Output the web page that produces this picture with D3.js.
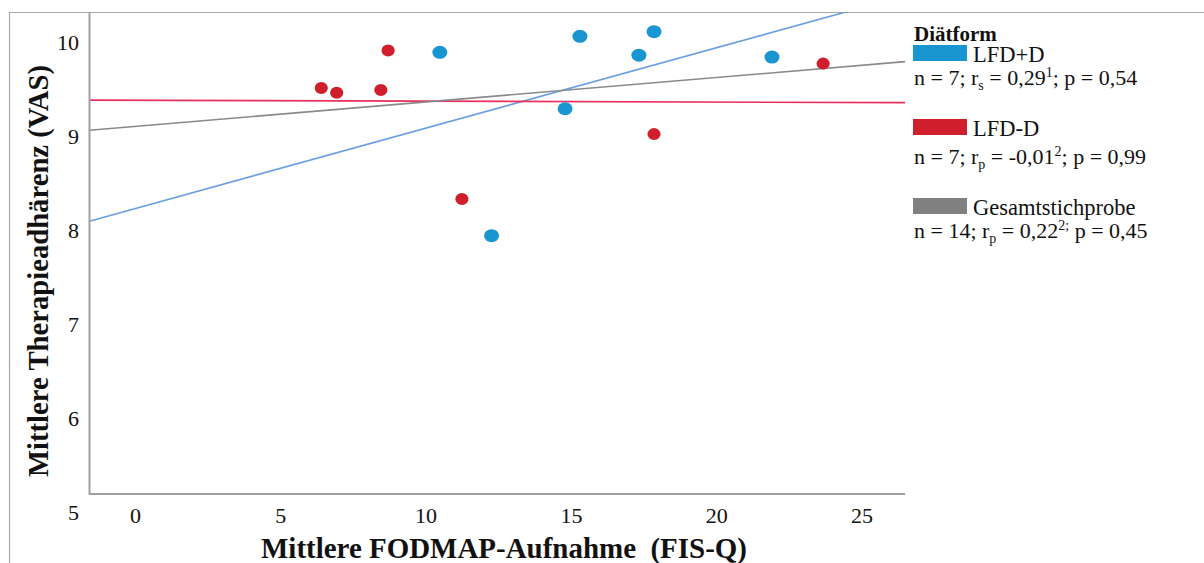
<!DOCTYPE html>
<html>
<head>
<meta charset="utf-8">
<script src="https://cdn.jsdelivr.net/npm/d3@7"></script>
<style>
  html, body { margin: 0; padding: 0; background: #ffffff; }
  svg { display: block; }
  text { font-family: "Liberation Serif", "Times New Roman", serif; fill: #111; }
</style>
</head>
<body>
<svg id="chart" width="1204" height="563"></svg>
<script>
// Mean FODMAP intake (FIS-Q) vs. mean therapy adherence (VAS), per diet group
const xTickValues = [0, 5, 10, 15, 20, 25];
const yTickValues = [5, 6, 7, 8, 9, 10];

const groupNames = ["LFD+D", "LFD-D", "Gesamtstichprobe"];
const groupColors = ["#1996d1", "#cf1f2c", "#808080"];
const fitColors = ["#6a9fe0", "#e8305c", "#8a8a8a"];

const fodmapLfdPlusD = [10.49, 15.31, 17.86, 17.34, 21.92, 14.80, 12.27];
const adherenceLfdPlusD = [9.89, 10.06, 10.11, 9.86, 9.84, 9.29, 7.94];

const fodmapLfdMinusD = [8.71, 6.41, 6.94, 8.46, 11.25, 17.86, 23.68];
const adherenceLfdMinusD = [9.91, 9.51, 9.46, 9.49, 8.33, 9.02, 9.77];

// Linear regression lines: LFD+D, LFD-D, whole sample
const fitIntercepts = [8.228, 9.3805, 9.102];
const fitSlopes = [0.0855, -0.00096, 0.026];

// Legend statistics: n, coefficient subscript, r, footnote mark, p
const statN = ["7", "7", "14"];
const statSub = ["s", "p", "p"];
const statR = ["0,29", "-0,01", "0,22"];
const statSup = ["1", "2", "2;"];
const statAfterSup = ["; ", "; ", " "];
const statP = ["0,54", "0,99", "0,45"];

const legendTitle = "Diätform";
const xTitle = "Mittlere FODMAP-Aufnahme  (FIS-Q)";
const yTitle = "Mittlere Therapieadhärenz (VAS)";

const svg = d3.select("#chart");

const plot = { left: 89.5, right: 905, top: 12, bottom: 494 };

const x = d3.scaleLinear().domain([0, 25]).range([135, 861.5]);
const y = d3.scaleLinear().domain([5, 10]).range([512, 42]);

// outer frame (left and top edges)
svg.append("path")
  .attr("d", `M9.5,563 V12.5 H1204`)
  .attr("fill", "none")
  .attr("stroke", "#a8a8a8")
  .attr("stroke-width", 1.2);

// clip for the regression lines
svg.append("defs").append("clipPath").attr("id", "plotClip")
  .append("rect")
  .attr("x", plot.left).attr("y", plot.top)
  .attr("width", plot.right - plot.left).attr("height", plot.bottom - plot.top);

// regression lines across the plotting range
const xMin = x.invert(plot.left), xMax = x.invert(plot.right);
const fitLine = d3.line().x(d => x(d[0])).y(d => y(d[1]));
const fits = svg.append("g").attr("clip-path", "url(#plotClip)");
fitIntercepts.forEach((b0, i) => {
  const b1 = fitSlopes[i];
  fits.append("path")
    .attr("d", fitLine([[xMin, b0 + b1 * xMin], [xMax, b0 + b1 * xMax]]))
    .attr("fill", "none")
    .attr("stroke", fitColors[i])
    .attr("stroke-width", 1.6);
});

// axis lines
svg.append("path")
  .attr("d", `M${plot.left},${plot.top} V${plot.bottom} H${plot.right}`)
  .attr("fill", "none")
  .attr("stroke", "#a0a0a0")
  .attr("stroke-width", 2);

// points
const ptsPlus = d3.zip(fodmapLfdPlusD, adherenceLfdPlusD);
const ptsMinus = d3.zip(fodmapLfdMinusD, adherenceLfdMinusD);

svg.append("g").selectAll("ellipse").data(ptsPlus).join("ellipse")
  .attr("cx", d => x(d[0])).attr("cy", d => y(d[1]))
  .attr("rx", 7.5).attr("ry", 6.5)
  .attr("fill", groupColors[0]);

svg.append("g").selectAll("ellipse").data(ptsMinus).join("ellipse")
  .attr("cx", d => x(d[0])).attr("cy", d => y(d[1]))
  .attr("rx", 6.6).attr("ry", 6)
  .attr("fill", groupColors[1]);

// tick labels
const xAxis = svg.append("g")
  .attr("transform", `translate(0,507)`)
  .call(d3.axisBottom(x).tickValues(xTickValues).tickSize(0).tickPadding(0).tickFormat(d3.format("d")));
xAxis.select(".domain").remove();
xAxis.selectAll("text")
  .attr("font-family", "Liberation Serif, serif")
  .attr("font-size", 22).attr("fill", "#111");

const yAxis = svg.append("g")
  .attr("transform", `translate(79,0)`)
  .call(d3.axisLeft(y).tickValues(yTickValues).tickSize(0).tickPadding(0).tickFormat(d3.format("d")));
yAxis.select(".domain").remove();
yAxis.selectAll("text")
  .attr("font-family", "Liberation Serif, serif")
  .attr("font-size", 22).attr("fill", "#111");

// axis titles
svg.append("text")
  .attr("x", 504).attr("y", 558)
  .attr("text-anchor", "middle")
  .attr("font-weight", "bold")
  .attr("font-size", 29)
  .attr("textLength", 486)
  .attr("lengthAdjust", "spacingAndGlyphs")
  .style("white-space", "pre")
  .text(xTitle);

svg.append("text")
  .attr("transform", "translate(48,271) rotate(-90)")
  .attr("text-anchor", "middle")
  .attr("font-weight", "bold")
  .attr("font-size", 29)
  .attr("textLength", 412)
  .attr("lengthAdjust", "spacingAndGlyphs")
  .text(yTitle);

// legend
const legend = svg.append("g");
legend.append("text")
  .attr("x", 914).attr("y", 41)
  .attr("font-weight", "bold")
  .attr("font-size", 21)
  .text(legendTitle);

const swatchTop = [45, 119, 198];
const statBase = [85, 164, 238];
groupNames.forEach((name, i) => {
  legend.append("rect")
    .attr("x", 913).attr("y", swatchTop[i])
    .attr("width", 54).attr("height", 16)
    .attr("fill", groupColors[i]);
  legend.append("text")
    .attr("x", 973).attr("y", swatchTop[i] + 16.5)
    .attr("font-size", 22.5)
    .text(name);

  const t = legend.append("text")
    .attr("x", 914).attr("y", statBase[i])
    .attr("font-size", 22)
    .style("white-space", "pre");
  t.append("tspan").text(`n = ${statN[i]}; r`);
  t.append("tspan").attr("font-size", 14).attr("dy", 5).text(statSub[i]);
  t.append("tspan").attr("dy", -5).text(` = ${statR[i]}`);
  t.append("tspan").attr("font-size", 14).attr("dy", -8).text(statSup[i]);
  t.append("tspan").attr("dy", 8).text(`${statAfterSup[i]}p = ${statP[i]}`);
});
</script>
</body>
</html>
